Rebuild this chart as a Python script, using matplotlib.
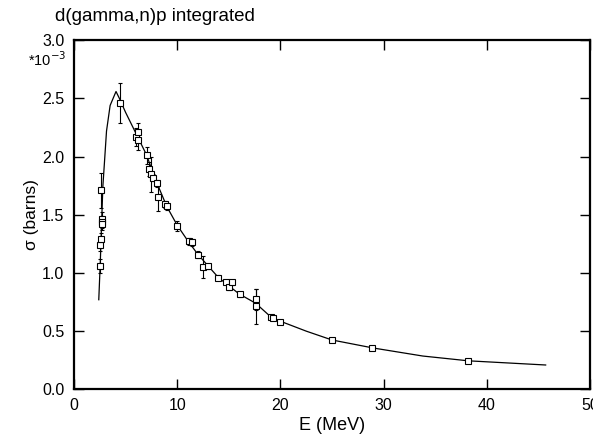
import matplotlib
matplotlib.use('Agg')
import matplotlib.pyplot as plt
import numpy as np

plt.rcParams['font.family'] = ['Liberation Sans', 'DejaVu Sans']

# measured points (E in MeV, sigma in 1e-3 barns)
energy = [2.48, 2.55, 2.58, 2.68, 2.75, 2.75, 2.58, 4.45, 6.0, 6.16, 6.16,
          7.03, 7.26, 7.42, 7.68, 8.0, 8.16, 8.8, 8.97, 10.0, 11.1, 11.42,
          12.0, 12.46, 12.97, 14.0, 14.68, 15.04, 15.3, 16.04, 17.62, 17.62,
          19.1, 19.3, 19.97, 25.0, 28.9, 38.2]
sigma = [1.06, 1.24, 1.29, 1.46, 1.44, 1.42, 1.71, 2.46, 2.17, 2.21, 2.14,
         2.01, 1.89, 1.85, 1.82, 1.77, 1.65, 1.59, 1.575, 1.405, 1.274, 1.263,
         1.155, 1.048, 1.057, 0.96, 0.922, 0.876, 0.919, 0.816, 0.773, 0.713,
         0.619, 0.612, 0.581, 0.424, 0.357, 0.243]
sigma_err = [0.06, 0.05, 0.05, 0.06, 0.05, 0.05, 0.15, 0.17, 0.08, 0.08, 0.08,
             0.07, 0.06, 0.15, 0.03, 0.03, 0.12, 0.03, 0.03, 0.04, 0.03, 0.03,
             0.03, 0.095, 0.02, 0.02, 0.02, 0.02, 0.02, 0.02, 0.09, 0.15,
             0.01, 0.01, 0.01, 0.01, 0.01, 0.01]

# theory curve
curve_e = [2.40, 2.55, 2.70, 2.80, 2.95, 3.15, 3.50, 4.07, 4.40, 5.0, 6.0,
           7.0, 8.0, 9.0, 10.0, 11.0, 12.0, 13.0, 14.0, 15.0, 16.0, 17.6,
           19.1, 20.0, 22.5, 25.0, 29.0, 33.8, 38.2, 45.7]
curve_s = [0.77, 1.10, 1.50, 1.75, 1.95, 2.22, 2.44, 2.56, 2.50, 2.38, 2.20,
           2.02, 1.78, 1.57, 1.41, 1.28, 1.16, 1.06, 0.96, 0.89, 0.82, 0.74,
           0.62, 0.585, 0.50, 0.424, 0.355, 0.286, 0.245, 0.209]

fig = plt.figure(figsize=(5.93, 4.40), dpi=100)
ax = fig.add_axes([0.1248, 0.1152, 0.8702, 0.7932])

ax.plot(curve_e, curve_s, color='black', lw=0.9)
ax.errorbar(energy, sigma, yerr=sigma_err, fmt='s', ms=4.5, mfc='white',
            mec='black', mew=0.8, ecolor='black', elinewidth=0.8, capsize=1.5,
            capthick=0.8, color='black')

ax.set_xlim(0, 50)
ax.set_ylim(0, 3.0)
ax.set_xticks([0, 10, 20, 30, 40, 50])
ax.set_yticks(np.arange(0, 3.01, 0.5))
ax.set_yticklabels(['%.1f' % v for v in np.arange(0, 3.01, 0.5)])
ax.tick_params(direction='in', length=7, width=1.0, labelsize=11.5,
               top=True, right=True)
ax.tick_params(axis='y', pad=7)
ax.tick_params(axis='x', pad=6)
for sp in ax.spines.values():
    sp.set_linewidth(1.6)

ax.set_xlabel('E (MeV)', fontsize=13, labelpad=3)
ax.set_ylabel('σ (barns)', fontsize=12.5, labelpad=2)

fig.text(0.093, 0.962, 'd(gamma,n)p integrated', fontsize=13.5, ha='left', va='center')
fig.text(0.112, 0.864, '*10$^{-3}$', fontsize=10.5, ha='right', va='center')

fig.savefig('out.png', dpi=100)
plt.close()
